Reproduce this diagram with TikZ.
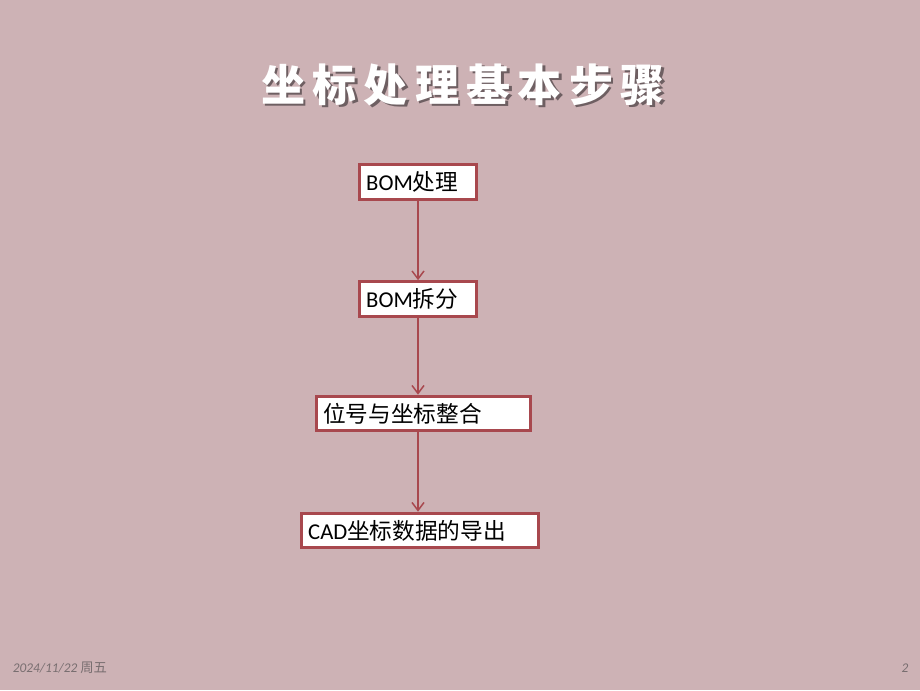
\documentclass[tikz,border=0pt]{standalone}
\usepackage{fontspec}
\setmainfont{Carlito}
\newfontfamily\cjk{Noto Sans CJK SC}
\usetikzlibrary{arrows.meta}

\definecolor{slidebg}{RGB}{205,178,181}
\definecolor{boxred}{RGB}{168,72,78}
\definecolor{footgray}{RGB}{120,110,112}
\definecolor{titleshade}{RGB}{110,95,98}

\newcommand{\shadowed}[1]{\rlap{\hspace{1.8pt}\raisebox{-1.8pt}{\textcolor{titleshade}{#1}}}\textcolor{white}{#1}}

\tikzset{every picture/.style={line width=0.75pt}}
\tikzset{
  stepbox/.style={draw=boxred, line width=2.25pt, fill=white, text=black,
    minimum height=26pt, inner xsep=5pt, inner ysep=2pt, align=left,
    font=\fontsize{17}{19}\selectfont},
  flow/.style={draw=boxred, line width=1.1pt,
    -{Straight Barb[length=6pt,width=9pt]}},
  titletext/.style={font=\cjk\bfseries\fontsize{33}{38}\selectfont}
}

\begin{document}
\begin{tikzpicture}[x=0.75pt,y=0.75pt,yscale=-1,xscale=1]
%set diagram left start at 0, and has height of 690
\useasboundingbox (0,0) rectangle (920,690);
\fill [slidebg] (0,0) rectangle (920,690);

% Title
\node [titletext] (title) at (463,86) {\shadowed{坐\,标\,处\,理\,基\,本\,步\,骤}};

% Step boxes
\node [stepbox, text width=77.75pt] (bom) at (418,182) {BOM{\cjk 处理}};
\node [stepbox, text width=77.75pt] (split) at (418,299) {BOM{\cjk 拆分}};
\node [stepbox, text width=150.5pt] (merge) at (423.5,413.5) {\cjk 位号与坐标整合};
\node [stepbox, text width=167.75pt] (export) at (420,530.5) {CAD{\cjk 坐标数据的导出}};

% Arrows
\draw [flow] (bom.south) -- (split.north);
\draw [flow] (split.south) -- (split.south |- merge.north);
\draw [flow] (split.south |- merge.south) -- (split.south |- export.north);

% Footer
\node [footgray, anchor=west, font=\itshape\fontsize{10}{11}\selectfont] (date) at (8,668) {2024/11/22 {\cjk 周五}};
\node [footgray, font=\itshape\fontsize{10}{11}\selectfont] (page) at (905,668) {2};

\end{tikzpicture}
\end{document}
